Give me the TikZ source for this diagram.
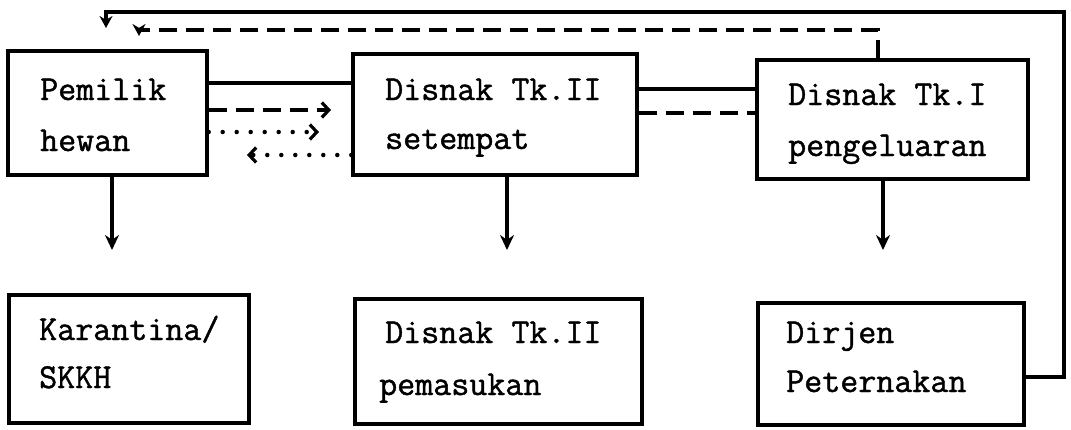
\documentclass[tikz,border=0pt]{standalone}
\usepackage{fontspec}
\newfontfamily\typew{Latin Modern Mono}[FakeBold=1.2]
\usetikzlibrary{arrows.meta}
\begin{document}
\begin{tikzpicture}[x=1pt,y=-1pt,
  box/.style={draw, line width=3.4pt, inner sep=0pt},
  lbl/.style={anchor=base west, inner sep=0pt, font=\fontsize{35}{40}\selectfont\typew},
  conn/.style={line width=3.2pt},
  dsh/.style={conn, dash pattern=on 18pt off 9pt},
  dtt/.style={line width=4.5pt, line cap=round, dash pattern=on 0pt off 14pt},
  vtip/.style={-{Stealth[length=15pt,width=14pt]}},
  stip/.style={-{Stealth[length=12pt,width=13pt]}},
  btip/.style={-{Straight Barb[length=7pt,width=15pt,line width=3.2pt]}},
]
\useasboundingbox (0,0) rectangle (1071,429);
% boxes
\node[box, minimum width=199pt, minimum height=124pt] (A) at (107.5,113) {};
\node[box, minimum width=284pt, minimum height=121pt] (B) at (495,114.5) {};
\node[box, minimum width=271pt, minimum height=119pt] (C) at (892.5,119.5) {};
\node[box, minimum width=240pt, minimum height=128pt] (A2) at (129,359) {};
\node[box, minimum width=287pt, minimum height=125pt] (B2) at (498.5,361.5) {};
\node[box, minimum width=266pt, minimum height=122pt] (C2) at (891,364) {};
% texts
\node[lbl] (tA1) at (40,100) {Pemilik};
\node[lbl] (tA2) at (40,151) {hewan};
\node[lbl] (tB1) at (385,100) {Disnak Tk.II};
\node[lbl] (tB2) at (385,149) {setempat};
\node[lbl] (tC1) at (788,105) {Disnak Tk.I};
\node[lbl] (tC2) at (788,156) {pengeluaran};
\node[lbl] (tA21) at (39,340) {Karantina/};
\node[lbl] (tA22) at (39,388) {SKKH};
\node[lbl] (tB21) at (385,343) {Disnak Tk.II};
\node[lbl] (tB22) at (379,395) {pemasukan};
\node[lbl] (tC21) at (786,343) {Dirjen};
\node[lbl] (tC22) at (786,392) {Peternakan};
% free ends
\coordinate (eDash) at (331,110);
\coordinate (eDot) at (319,132);
\coordinate (eDotL) at (247,155);
\coordinate (vA) at (112,250);
\coordinate (vB) at (507,250);
\coordinate (vC) at (883,250);
\coordinate (topEnd) at (106,28);
\coordinate (dTopEnd) at (139,36);
% A - B
\draw[conn] (A.east |- 0,83) -- (B.west |- 0,83);
\draw[dsh, btip] (A.east |- 0,110) -- (eDash);
\draw[dtt, btip] (A.east |- 0,132) -- (eDot);
\draw[dtt, btip] (B.west |- 0,155) -- (eDotL);
% B - C
\draw[conn] (B.east |- 0,89) -- (C.west |- 0,89);
\draw[dsh] (B.east |- 0,113) -- (C.west |- 0,113);
% down arrows
\draw[conn, vtip] (A.south -| vA) -- (vA);
\draw[conn, vtip] (B.south -| vB) -- (vB);
\draw[conn, vtip] (C.south -| vC) -- (vC);
% feedback lines
\draw[conn, stip] (C2.east |- 0,377) -- (1064,377) -- (1064,12) -- (topEnd |- 0,12) -- (topEnd);
\draw[dsh, stip] (C.north -| 878,0) -- (878,30) -- (dTopEnd |- 0,30) -- (dTopEnd);
\end{tikzpicture}
\end{document}
